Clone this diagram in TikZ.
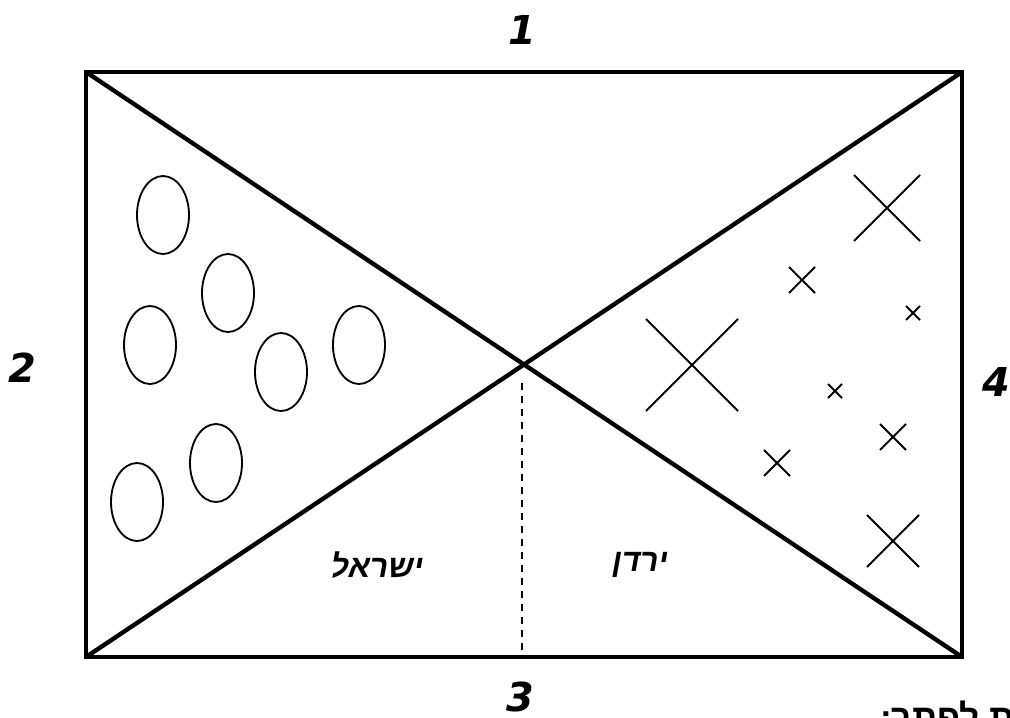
\documentclass[tikz,border=0pt]{standalone}
\usepackage{fontspec}
\setmainfont{Liberation Sans}
\newfontfamily\hebfont[Script=Hebrew]{Liberation Sans}
\newfontfamily\numfont{DejaVu Sans}
\TeXXeTstate=1
\usetikzlibrary{shapes.geometric, positioning}

\begin{document}
\begin{tikzpicture}[x=0.3mm, y=-0.3mm,
    frame/.style={line width=1.3mm, line join=miter},
    thinline/.style={line width=0.55mm},
    oval/.style={ellipse, draw, thinline, inner sep=0pt, minimum width=15.6mm, minimum height=23.4mm},
    numlbl/.style={font=\numfont\bfseries\itshape\fontsize{34}{34}\selectfont, inner sep=0pt},
    heblbl/.style={font=\hebfont\bfseries\fontsize{27}{27}\selectfont, inner sep=0pt, xslant=0.18, transform shape},
  ]
    \useasboundingbox (0,0) rectangle (1010,717);

    % frame and diagonals
    \coordinate (tl) at (86,72);
    \coordinate (tr) at (962,72);
    \coordinate (bl) at (86,657);
    \coordinate (br) at (962,657);
    \coordinate (mid) at (522,383);
    \draw[frame] (tl) rectangle (br);
    \draw[frame] (tl) -- (br) (tr) -- (bl);
    \draw[dashed, line width=0.45mm, dash pattern=on 2.1mm off 1.8mm] (mid) -- (mid |- bl);

    % side numbers
    \node[numlbl] (n1) at (522,30)  {1};
    \node[numlbl] (n2) at (22,368)  {2};
    \node[numlbl] (n3) at (520,697) {3};
    \node[numlbl] (n4) at (996,382) {4};

    % ovals on the left
    \foreach \i/\ex/\ey in {1/163/215, 2/228/293, 3/150/345, 4/281/372,
                            5/359/345, 6/216/463, 7/137/502} {
      \node[oval] (o\i) at (\ex,\ey) {};
    }

    % crosses on the right
    \foreach \cx/\cy/\h in {887/208/33, 802/280/13, 913/313/7, 692/365/46,
                            835/391/7, 893/437/13, 777/463/13, 893/541/26} {
      \draw[thinline] (\cx-\h,\cy-\h) -- (\cx+\h,\cy+\h)
                      (\cx-\h,\cy+\h) -- (\cx+\h,\cy-\h);
    }

    % names
    \node[heblbl] (isr) at (378,565) {\beginR ישראל\endR};
    \node[heblbl] (jor) at (640,565) {\beginR ירדן\endR};

    % cut-off caption
    \node[font=\hebfont\bfseries\fontsize{30}{30}\selectfont, anchor=north west, inner sep=0pt] (task) at (880,701) {\beginR ות לפתר:\endR};
  \end{tikzpicture}
\end{document}
